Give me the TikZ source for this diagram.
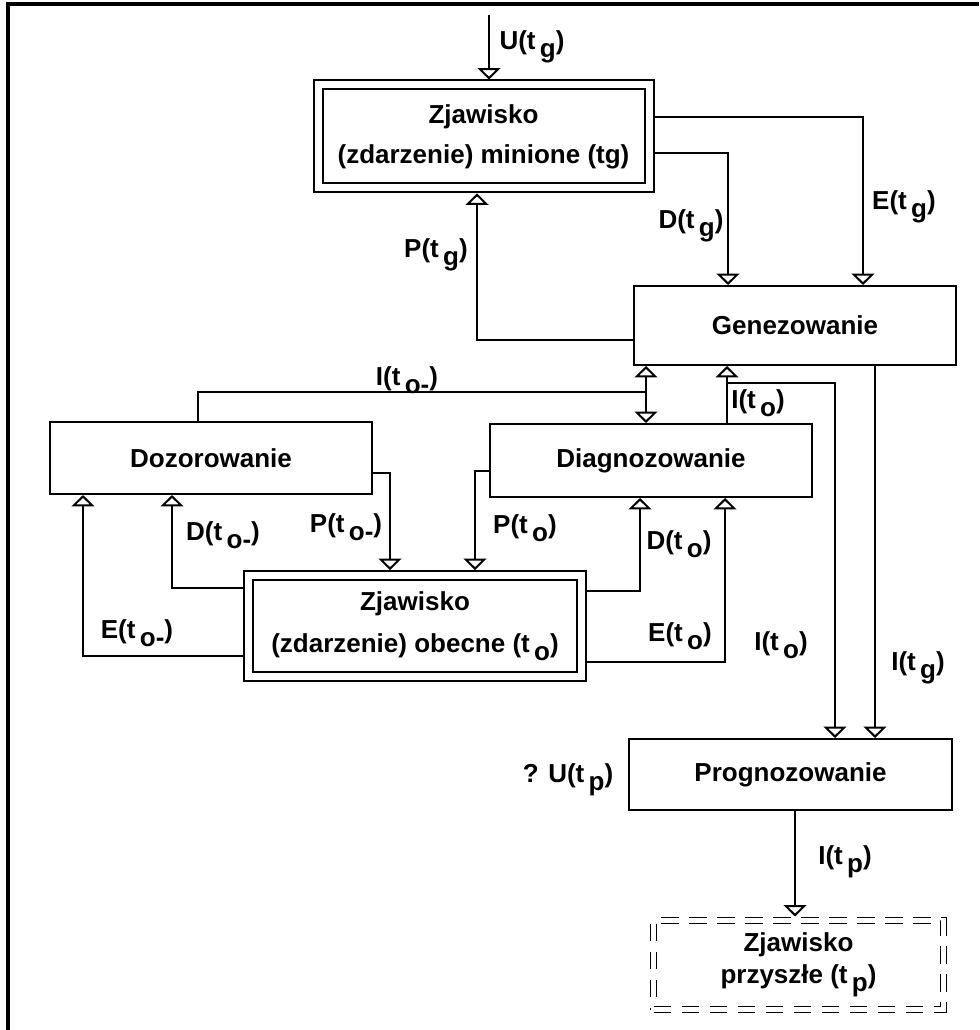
\documentclass[tikz,border=0pt]{standalone}
\usepackage{fontspec}
\setmainfont{Liberation Sans}
\usetikzlibrary{arrows.meta,calc}
\newcommand\subt[1]{\,\raisebox{-0.3em}{#1}}
\begin{document}
\begin{tikzpicture}[x=0.75pt,y=-0.75pt,
  every node/.style={font=\bfseries\fontsize{19.5}{24}\selectfont},
  box/.style={draw, line width=1.5pt, inner sep=0pt, align=center},
  dbox/.style={draw, line width=1.5pt, double, double distance=5.25pt, outer sep=4.1pt, inner sep=0pt, align=center},
  fbox/.style={draw, line width=1.2pt, double, double distance=3.5pt, dash pattern=on 13pt off 8pt, outer sep=3pt, inner sep=0pt, align=center},
  arr/.style={line width=1.5pt, -{Triangle[open, width=17pt, length=8.5pt]}},
  lbl/.style={inner sep=0pt}
]
\useasboundingbox (0,0) rectangle (979,1030);
% frame
\draw[line width=3pt] (8,1030) -- (8,4.5) -- (979,4.5);

% boxes
\node[dbox, minimum width=248.25pt, minimum height=77.25pt] (top) at (483.5,136.5)
  {Zjawisko\\[6pt](zdarzenie) minione (tg)};
\node[box, minimum width=241.5pt, minimum height=59.25pt] (gen) at (795,325.5) {Genezowanie};
\node[box, minimum width=241.5pt, minimum height=54.75pt] (diag) at (651,460.5) {Diagnozowanie};
\node[box, minimum width=241.5pt, minimum height=54pt] (doz) at (211,458) {Dozorowanie};
\node[dbox, minimum width=249.75pt, minimum height=75.75pt] (obe) at (415,626)
  {Zjawisko\\[8pt](zdarzenie) obecne (t\subt{o})};
\node[box, minimum width=242.25pt, minimum height=53.25pt] (prog) at (790.5,774.5) {Prognozowanie};
\node[fbox, minimum width=217.5pt, minimum height=66.75pt] (fut) at (798.5,965)
  {Zjawisko\\przyszłe (t\subt{p})};

% connectors
\coordinate (uin) at (489,15);
\draw[arr] (uin) -- (top.north -| uin);
\draw[arr] (top.east |- 0,117) -| (gen.north -| 863,0);
\draw[arr] (top.east |- 0,153) -| (gen.north -| 728,0);
\draw[arr] (gen.west |- 0,340) -| (top.south -| 477,0);

\coordinate (j1) at (646,392);
\draw[line width=1.5pt] (doz.north -| 198,0) |- (j1);
\draw[arr] (j1) -- (gen.south -| j1);
\draw[arr] (j1) -- (diag.north -| j1);

\coordinate (j2) at (727,383);
\draw[arr] (diag.north -| j2) -- (gen.south -| j2);
\draw[arr] (j2) -| (prog.north -| 835,0);
\draw[arr] (gen.south -| 875,0) -- (prog.north -| 875,0);

\draw[arr] (doz.east |- 0,473) -| (obe.north -| 390,0);
\draw[arr] (diag.west |- 0,471) -| (obe.north -| 475,0);
\draw[arr] (obe.west |- 0,588) -| (doz.south -| 172,0);
\draw[arr] (obe.west |- 0,656) -| (doz.south -| 83,0);
\draw[arr] (obe.east |- 0,591) -| (diag.south -| 640,0);
\draw[arr] (obe.east |- 0,662) -| (diag.south -| 725,0);
\draw[arr] (prog.south -| 795,0) -- (fut.north -| 795,0);

% labels
\node[lbl] (lU) at (532,47) {U(t\subt{g})};
\node[lbl] (lPtg) at (436,255) {P(t\subt{g})};
\node[lbl] (lDtg) at (691,226) {D(t\subt{g})};
\node[lbl] (lEtg) at (904,207) {E(t\subt{g})};
\node[lbl] (lIom) at (407,380) {I(t\subt{o-})};
\node[lbl] (lIo1) at (758,403) {I(t\subt{o})};
\node[lbl] (lPom) at (346,527) {P(t\subt{o-})};
\node[lbl] (lDom) at (223,535) {D(t\subt{o-})};
\node[lbl] (lEom) at (137,633) {E(t\subt{o-})};
\node[lbl] (lPo) at (525,528) {P(t\subt{o})};
\node[lbl] (lDo) at (679,544) {D(t\subt{o})};
\node[lbl] (lEo) at (680,636) {E(t\subt{o})};
\node[lbl] (lIo2) at (781,645) {I(t\subt{o})};
\node[lbl] (lItg) at (918,668) {I(t\subt{g})};
\node[lbl] (lUp) at (568,780) {? U(t\subt{p})};
\node[lbl] (lItp) at (845,862) {I(t\subt{p})};
\end{tikzpicture}
\end{document}
